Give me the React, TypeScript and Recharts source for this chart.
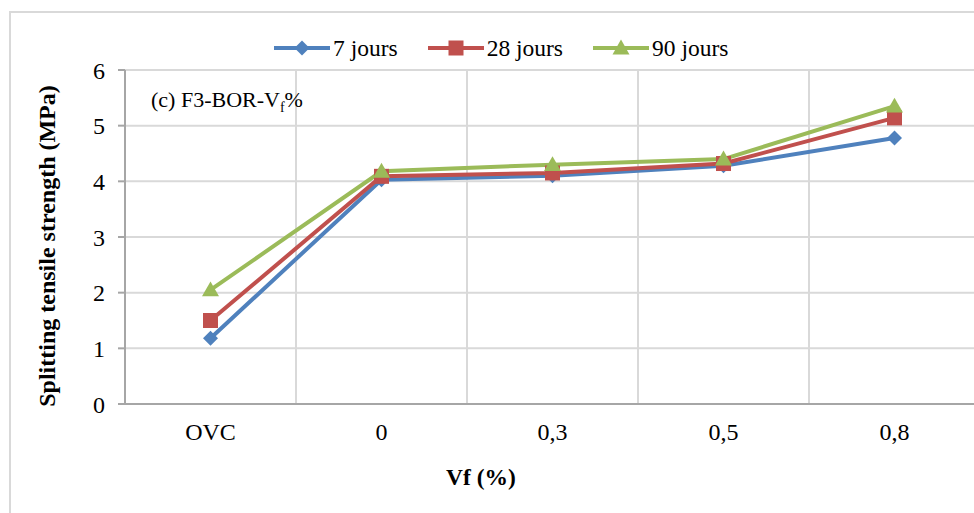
import React from "react";
import {
  LineChart,
  Line,
  XAxis,
  YAxis,
  CartesianGrid,
  Label,
} from "recharts";

const categories = ["OVC", "0", "0,3", "0,5", "0,8"];
const jours7 = [1.18, 4.03, 4.1, 4.28, 4.78];
const jours28 = [1.5, 4.09, 4.15, 4.32, 5.14];
const jours90 = [2.05, 4.18, 4.3, 4.4, 5.35];
const yTicks = [0, 1, 2, 3, 4, 5, 6];

const seriesInfo = [
  { key: "j7", name: "7 jours", color: "#4F81BD", shape: "diamond" },
  { key: "j28", name: "28 jours", color: "#C0504D", shape: "square" },
  { key: "j90", name: "90 jours", color: "#9BBB59", shape: "triangle" },
];

const data = categories.map((c, i) => ({
  cat: c,
  j7: jours7[i],
  j28: jours28[i],
  j90: jours90[i],
}));

const FONT = "Liberation Serif, Times New Roman, DejaVu Serif, serif";

function Marker({ cx, cy, shape, color }: any) {
  if (cx == null || cy == null) return null;
  if (shape === "diamond") {
    const r = 7.5;
    return (
      <path
        d={`M${cx},${cy - r} L${cx + r},${cy} L${cx},${cy + r} L${cx - r},${cy} Z`}
        fill={color}
      />
    );
  }
  if (shape === "square") {
    const r = 7.5;
    return <rect x={cx - r} y={cy - r} width={r * 2} height={r * 2} fill={color} />;
  }
  const r = 8.5;
  return (
    <path
      d={`M${cx},${cy - r} L${cx + r},${cy + r * 0.75} L${cx - r},${cy + r * 0.75} Z`}
      fill={color}
    />
  );
}

function ChartLegend() {
  return (
    <div
      style={{
        position: "absolute",
        left: 273,
        top: 33,
        display: "flex",
        gap: 29,
        fontFamily: FONT,
        fontSize: 23.5,
        lineHeight: "30px",
        color: "#000",
        whiteSpace: "nowrap",
      }}
    >
      {seriesInfo.map((s) => (
        <div key={s.key} style={{ display: "flex", alignItems: "center" }}>
          <svg width={58} height={20} style={{ marginRight: 2 }}>
            <line x1={1} y1={10} x2={57} y2={10} stroke={s.color} strokeWidth={4} />
            <Marker cx={29} cy={10} shape={s.shape} color={s.color} />
          </svg>
          <span>{s.name}</span>
        </div>
      ))}
    </div>
  );
}

export default function App() {
  return (
    <div
      style={{
        position: "absolute",
        left: 0,
        top: 0,
        width: 974,
        height: 513,
        overflow: "hidden",
        background: "#fff",
      }}
    >
      <div
        style={{
          position: "absolute",
          left: 9,
          top: 11,
          width: 1000,
          height: 600,
          border: "2px solid #d9d9d9",
        }}
      />
      <div style={{ position: "absolute", left: 0, top: 0 }}>
        <LineChart
          width={990}
          height={513}
          data={data}
          margin={{ top: 70, right: 10, bottom: 0, left: 0 }}
        >
          <CartesianGrid
            stroke="#d9d9d9"
            strokeWidth={2}
            verticalCoordinatesGenerator={({ offset }: any) =>
              categories.slice(1).map(
                (_, i) => offset.left + ((i + 1) * offset.width) / categories.length
              )
            }
          />
          <XAxis
            dataKey="cat"
            scale="band"
            height={109}
            tickLine={false}
            axisLine={{ stroke: "#a6a6a6", strokeWidth: 2 }}
            tick={{ fill: "#000", fontFamily: FONT, fontSize: 24 }}
            tickMargin={13}
          >
            <Label
              content={() => (
                <text
                  x={481}
                  y={485}
                  textAnchor="middle"
                  fontFamily={FONT}
                  fontSize={23.5}
                  fontWeight="bold"
                  fill="#000"
                >
                  Vf (%)
                </text>
              )}
            />
          </XAxis>
          <YAxis
            width={125}
            domain={[0, 6]}
            ticks={yTicks}
            interval={0}
            tickSize={7}
            tickMargin={13}
            tickLine={{ stroke: "#a6a6a6", strokeWidth: 2 }}
            axisLine={{ stroke: "#a6a6a6", strokeWidth: 2 }}
            tick={{ fill: "#000", fontFamily: FONT, fontSize: 24 }}
          >
            <Label
              content={() => (
                <text
                  x={0}
                  y={0}
                  transform="translate(55,246) rotate(-90)"
                  textAnchor="middle"
                  fontFamily={FONT}
                  fontSize={24}
                  fontWeight="bold"
                  fill="#000"
                >
                  Splitting tensile strength (MPa)
                </text>
              )}
            />
          </YAxis>
          {seriesInfo.map((s) => (
            <Line
              key={s.key}
              type="linear"
              dataKey={s.key}
              name={s.name}
              stroke={s.color}
              strokeWidth={4}
              isAnimationActive={false}
              dot={(p: any) => (
                <Marker key={`${s.key}-${p.index}`} cx={p.cx} cy={p.cy} shape={s.shape} color={s.color} />
              )}
              activeDot={false}
            />
          ))}
        </LineChart>
      </div>
      <ChartLegend />
      <div
        style={{
          position: "absolute",
          left: 151,
          top: 87,
          fontFamily: FONT,
          fontSize: 22,
          color: "#000",
          whiteSpace: "nowrap",
        }}
      >
        (c) F3-BOR-V<sub style={{ fontSize: 14 }}>f</sub>%
      </div>
    </div>
  );
}
